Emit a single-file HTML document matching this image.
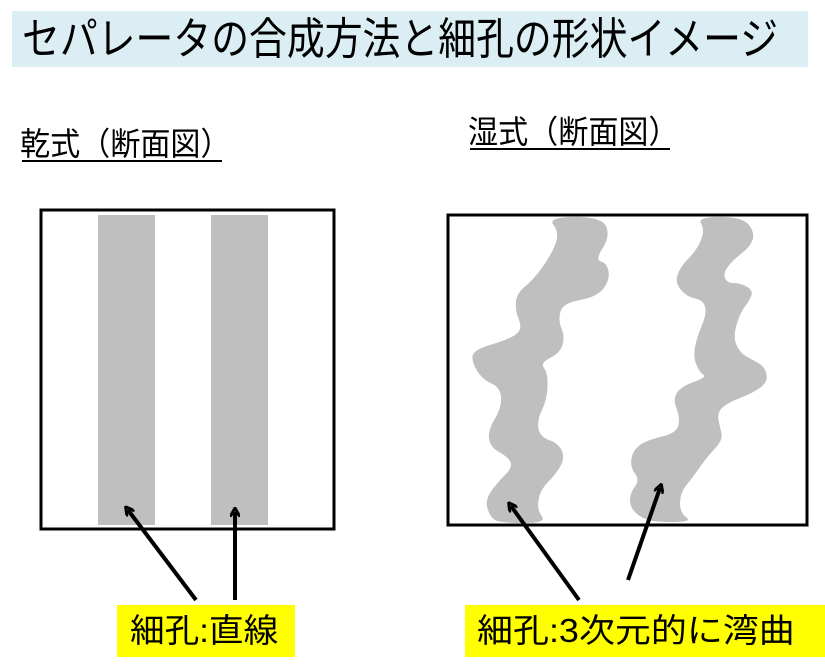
<!DOCTYPE html>
<html><head><meta charset="utf-8"><style>
html,body{margin:0;padding:0;background:#fff}
body{width:825px;height:669px;position:relative;overflow:hidden;font-family:"Liberation Sans","Noto Sans CJK JP",sans-serif}
.band{position:absolute;left:12px;top:11px;width:796px;height:56px;background:#dbeef3}
.title{position:absolute;left:22px;top:12px;font-size:44px;line-height:56px;color:#000;white-space:nowrap;transform:scaleX(0.86);transform-origin:0 0}
.sub{position:absolute;font-size:32px;line-height:36px;white-space:nowrap;transform:scaleX(0.94);transform-origin:0 0}
.ul{position:absolute;height:2px;background:#000}
.lab{position:absolute;background:#ffff00;height:52px}
.lt{position:absolute;font-size:33px;line-height:52px;white-space:nowrap;transform-origin:0 0}
svg{position:absolute;left:0;top:0}
</style></head><body>
<div class="band"></div>
<div class="title">セパレータの合成方法と細孔の形状イメージ</div>
<div class="sub" style="left:20px;top:126px">乾式（断面図）</div>
<div class="ul" style="left:22px;top:160px;width:200px"></div>
<div class="sub" style="left:468px;top:114px">湿式（断面図）</div>
<div class="ul" style="left:470px;top:148px;width:200px"></div>
<svg width="825" height="669">
<defs><marker id="ah" markerWidth="10" markerHeight="10" refX="5" refY="5" orient="auto" markerUnits="userSpaceOnUse" viewBox="0 0 10 10"><path d="M0,0 L9,5 L0,10" fill="none" stroke="#000" stroke-width="3"/></marker></defs>
<rect x="41" y="210" width="293" height="319" fill="#fff" stroke="#000" stroke-width="3"/>
<rect x="98" y="215" width="57" height="310" fill="#bfbfbf"/>
<rect x="211" y="215" width="57" height="310" fill="#bfbfbf"/>
<rect x="448" y="215" width="359" height="310" fill="#fff" stroke="#000" stroke-width="3"/>
<polygon class="wv" fill="#bfbfbf" stroke="#bfbfbf" stroke-width="4" stroke-linejoin="round" points="547,217 560,233 550,257 533,280 517,293 515,310 523,330 507,340 473,350 472,363 483,380 500,387 502,407 488,430 490,447 508,457 513,467 497,483 485,500 490,517 500,523 547,523 537,510 540,490 557,473 565,457 558,443 540,437 537,420 547,400 548,373 540,363 560,353 565,337 558,320 563,303 597,297 610,280 607,263 595,260 610,237 603,217"/>
<polygon class="wv" fill="#bfbfbf" stroke="#bfbfbf" stroke-width="4" stroke-linejoin="round" points="697,217 705,230 697,250 680,267 675,283 687,297 703,300 707,313 697,337 693,357 700,373 707,377 680,387 673,400 680,417 677,433 647,440 633,450 630,467 640,480 630,493 630,507 640,517 653,522 693,522 680,513 680,493 693,477 707,457 723,440 720,427 717,413 727,403 753,393 768,382 765,367 753,360 740,353 733,337 740,313 750,300 753,290 740,283 727,283 723,273 733,260 750,247 755,233 743,217"/>
<g stroke="#000" stroke-width="4" fill="none">
<line x1="196" y1="600" x2="128" y2="510" marker-end="url(#ah)"/>
<line x1="235" y1="600" x2="235" y2="512" marker-end="url(#ah)"/>
<line x1="579" y1="600" x2="511" y2="506" marker-end="url(#ah)"/>
<line x1="628" y1="580" x2="660" y2="488" marker-end="url(#ah)"/>
</g>
</svg>
<div class="lab" style="left:117px;top:605px;width:178px"></div>
<div class="lt" style="left:130px;top:605px;transform:scaleX(1.05)">細孔:直線</div>
<div class="lab" style="left:465px;top:605px;width:360px"></div>
<div class="lt" style="left:477px;top:605px;transform:scaleX(1.09)">細孔:3次元的に湾曲</div>
<script>
document.querySelectorAll('polygon.wv').forEach(function(pg){
  var n=pg.getAttribute('points').trim().split(/\s+/).map(function(s){return s.split(',').map(Number)});
  var L=n.length,d='';
  function m(a,b){return [(a[0]+b[0])/2,(a[1]+b[1])/2]}
  var s=m(n[L-1],n[0]);d='M'+s[0]+','+s[1];
  for(var i=0;i<L;i++){var p=n[i],q=m(p,n[(i+1)%L]);d+=' Q'+p[0]+','+p[1]+' '+q[0]+','+q[1];}
  var path=document.createElementNS('http://www.w3.org/2000/svg','path');
  path.setAttribute('d',d+'Z');path.setAttribute('fill','#bfbfbf');
  pg.parentNode.replaceChild(path,pg);
});
</script>
</body></html>
